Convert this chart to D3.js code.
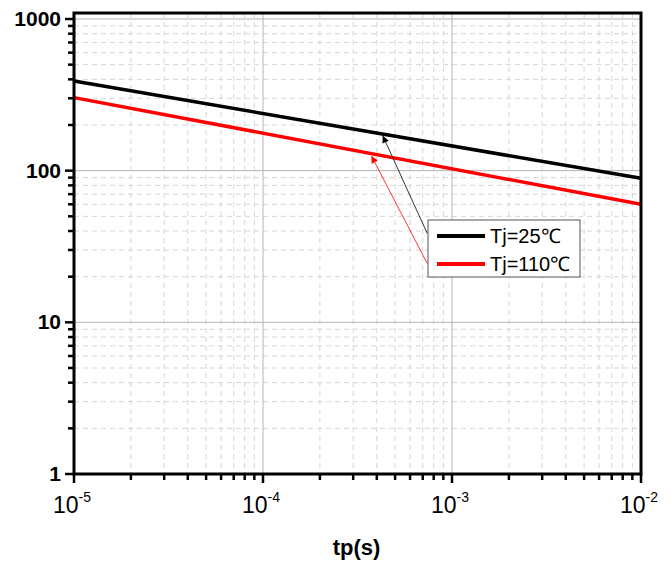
<!DOCTYPE html>
<html>
<head>
<meta charset="utf-8">
<script src="https://cdn.jsdelivr.net/npm/d3@7"></script>
<style>
  body { margin: 0; background: #fff; }
  svg { display: block; }
</style>
</head>
<body>
<div id="chart"></div>
<script>
// ── Data ────────────────────────────────────────────────────────────
const seriesNames  = ["Tj=25℃", "Tj=110℃"];
const seriesColors = ["#000000", "#ff0000"];
const tpValues     = [1e-5, 1e-2];
const curve25      = [390, 89];
const curve110     = [303, 60];
const yTickValues  = [1, 10, 100, 1000];
const xTickExps    = [-5, -4, -3, -2];
// arrow annotations: [tail tp, tail value, head tp, head value]
const arrow25      = [7.4e-4, 38.5, 4.3e-4, 170];
const arrow110     = [7.4e-4, 24.4, 3.75e-4, 125];

const W = 671, H = 567;
const plot = { left: 74, right: 641, top: 13, bottom: 474, y1000: 19 };

const svg = d3.select("#chart").append("svg")
  .attr("width", W).attr("height", H);

const x = d3.scaleLog().domain([1e-5, 1e-2]).range([plot.left, plot.right]);
const y = d3.scaleLog().domain([1, 1000]).range([plot.bottom, plot.y1000]);

// ── Grid ────────────────────────────────────────────────────────────
const minorX = [], minorY = [];
for (let e = -5; e < -2; e++) for (let m = 2; m <= 9; m++) minorX.push(m * Math.pow(10, e));
for (let e = 0; e < 3; e++)  for (let m = 2; m <= 9; m++) minorY.push(m * Math.pow(10, e));
const majorX = xTickExps.map(e => Math.pow(10, e));

const grid = svg.append("g");
grid.selectAll(".gxm").data(minorX).join("line")
  .attr("x1", d => x(d)).attr("x2", d => x(d))
  .attr("y1", plot.top).attr("y2", plot.bottom)
  .attr("stroke", "#d6d6d6").attr("stroke-width", 1).attr("stroke-dasharray", "5,4");
grid.selectAll(".gym").data(minorY).join("line")
  .attr("x1", plot.left).attr("x2", plot.right)
  .attr("y1", d => y(d)).attr("y2", d => y(d))
  .attr("stroke", "#d6d6d6").attr("stroke-width", 1).attr("stroke-dasharray", "5,4");
grid.selectAll(".gxM").data(majorX).join("line")
  .attr("x1", d => x(d)).attr("x2", d => x(d))
  .attr("y1", plot.top).attr("y2", plot.bottom)
  .attr("stroke", "#b4b4b4").attr("stroke-width", 1);
grid.selectAll(".gyM").data(yTickValues).join("line")
  .attr("x1", plot.left).attr("x2", plot.right)
  .attr("y1", d => y(d)).attr("y2", d => y(d))
  .attr("stroke", "#b4b4b4").attr("stroke-width", 1);

// ── Curves ──────────────────────────────────────────────────────────
const line = d3.line().x(d => x(d[0])).y(d => y(d[1]));
[curve25, curve110].forEach((vals, i) => {
  svg.append("path")
    .datum(tpValues.map((t, k) => [t, vals[k]]))
    .attr("d", line)
    .attr("fill", "none")
    .attr("stroke", seriesColors[i])
    .attr("stroke-width", 3.5);
});

// ── Arrows ──────────────────────────────────────────────────────────
const defs = svg.append("defs");
seriesColors.forEach((c, i) => {
  defs.append("marker")
    .attr("id", "arr" + i)
    .attr("viewBox", "0 0 10 10")
    .attr("refX", 10).attr("refY", 5)
    .attr("markerWidth", 11).attr("markerHeight", 7)
    .attr("markerUnits", "userSpaceOnUse")
    .attr("orient", "auto")
    .append("path").attr("d", "M0,0 L10,5 L0,10 Z").attr("fill", c);
});
[arrow25, arrow110].forEach((a, i) => {
  svg.append("line")
    .attr("x1", x(a[0])).attr("y1", y(a[1]))
    .attr("x2", x(a[2])).attr("y2", y(a[3]))
    .attr("stroke", seriesColors[i]).attr("stroke-width", 0.8)
    .attr("marker-end", `url(#arr${i})`);
});

// ── Frame and ticks ─────────────────────────────────────────────────
svg.append("rect")
  .attr("x", plot.left).attr("y", plot.top)
  .attr("width", plot.right - plot.left).attr("height", plot.bottom - plot.top)
  .attr("fill", "none").attr("stroke", "#000").attr("stroke-width", 3);

const ticks = svg.append("g").attr("stroke", "#000").attr("stroke-width", 2.5);
ticks.selectAll(".ty").data(yTickValues).join("line")
  .attr("x1", plot.left - 9).attr("x2", plot.left)
  .attr("y1", d => y(d)).attr("y2", d => y(d));
ticks.selectAll(".tym").data(minorY).join("line")
  .attr("x1", plot.left - 6).attr("x2", plot.left)
  .attr("y1", d => y(d)).attr("y2", d => y(d));
ticks.selectAll(".tx").data(majorX).join("line")
  .attr("x1", d => x(d)).attr("x2", d => x(d))
  .attr("y1", plot.bottom).attr("y2", plot.bottom + 9);
ticks.selectAll(".txm").data(minorX).join("line")
  .attr("x1", d => x(d)).attr("x2", d => x(d))
  .attr("y1", plot.bottom).attr("y2", plot.bottom + 6);

// ── Tick labels ─────────────────────────────────────────────────────
const font = "'Liberation Sans', Arial, sans-serif";
svg.selectAll(".yl").data(yTickValues).join("text")
  .attr("x", plot.left - 13).attr("y", d => y(d) + 7)
  .attr("text-anchor", "end")
  .attr("font-family", font).attr("font-size", 21).attr("font-weight", "bold")
  .text(d => d);

const xl = svg.selectAll(".xl").data(xTickExps).join("text")
  .attr("x", d => x(Math.pow(10, d)) - 2).attr("y", plot.bottom + 39)
  .attr("text-anchor", "middle")
  .attr("font-family", font).attr("font-size", 23);
xl.append("tspan").text("10");
xl.append("tspan").attr("dy", -11).attr("font-size", 14).text(d => d);

svg.append("text")
  .attr("x", (plot.left + plot.right) / 2 - 1).attr("y", 555)
  .attr("text-anchor", "middle")
  .attr("font-family", font).attr("font-size", 22).attr("font-weight", "bold")
  .text("tp(s)");

// ── Legend ──────────────────────────────────────────────────────────
const lg = svg.append("g").attr("transform", "translate(428,220)");
lg.append("rect")
  .attr("width", 152).attr("height", 57)
  .attr("fill", "#fff").attr("stroke", "#555").attr("stroke-width", 1);
seriesNames.forEach((name, i) => {
  const yy = 16 + i * 28;
  lg.append("line")
    .attr("x1", 9).attr("x2", 57).attr("y1", yy).attr("y2", yy)
    .attr("stroke", seriesColors[i]).attr("stroke-width", 4);
  lg.append("text")
    .attr("x", 62).attr("y", yy + 7)
    .attr("font-family", font).attr("font-size", 20)
    .text(name);
});
</script>
</body>
</html>
